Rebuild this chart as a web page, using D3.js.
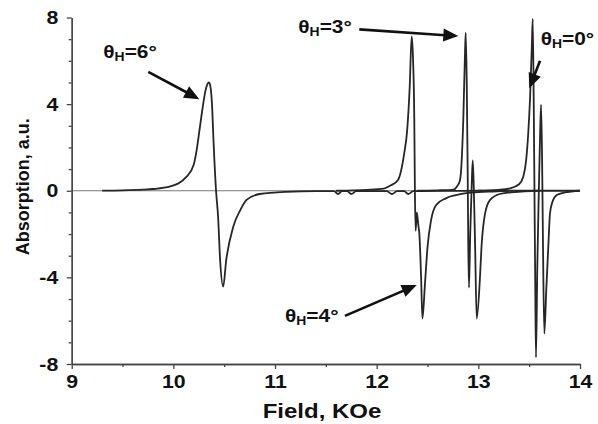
<!DOCTYPE html>
<html>
<head>
<meta charset="utf-8">
<script src="https://cdn.jsdelivr.net/npm/d3@7"></script>
<style>
  body { margin: 0; background: #fff; }
  svg text { font-family: "Liberation Sans", Arial, sans-serif; font-weight: bold; fill: #111; }
</style>
</head>
<body>
<svg id="chart" width="598" height="424"></svg>
<script>
// Data (field in KOe, absorption in a.u.)
const field6 = [9.3, 9.5, 9.7, 9.8, 9.97, 10.13, 10.2, 10.23, 10.26, 10.29, 10.315, 10.335, 10.35, 10.365, 10.38, 10.395, 10.42, 10.44, 10.46, 10.49, 10.52, 10.59, 10.66, 10.72, 10.85, 11.11, 11.4, 11.58, 11.62, 11.66, 11.71, 11.75, 11.8, 12.1, 12.15, 12.2, 12.27, 12.31, 12.36, 12.6, 13.0, 14.0]
const abs6 = [0.01, 0.02, 0.05, 0.08, 0.2, 0.65, 1.2, 1.9, 2.9, 3.9, 4.6, 4.92, 5.0, 4.8, 4.0, 2.3, 0, -1.2, -3.2, -4.43, -3.2, -1.65, -0.88, -0.42, -0.15, -0.05, -0.02, -0.02, -0.15, -0.02, -0.02, -0.15, -0.02, -0.02, -0.15, -0.02, -0.02, -0.15, -0.02, -0.01, 0, 0]

const field4 = [11.6, 11.9, 12.07, 12.14, 12.21, 12.27, 12.30, 12.325, 12.344, 12.356, 12.37, 12.376, 12.383, 12.395, 12.41, 12.42, 12.437, 12.45, 12.475, 12.50, 12.535, 12.585, 12.68, 12.78, 12.9, 13.1, 13.3]
const abs4 = [0, 0.04, 0.1, 0.25, 0.5, 1.7, 2.8, 4.8, 7.13, 6.3, 3.27, 0, -1.85, -1.0, -1.6, -2.0, -4.0, -5.9, -4.3, -2.6, -1.36, -0.66, -0.35, -0.2, -0.1, -0.04, 0]

const field3 = [12.4, 12.6, 12.7, 12.754, 12.79, 12.82, 12.852, 12.869, 12.876, 12.886, 12.895, 12.901, 12.908, 12.92, 12.935, 12.945, 12.955, 12.968, 12.984, 13.015, 13.031, 13.064, 13.114, 13.212, 13.35, 13.6]
const abs3 = [0, 0.02, 0.03, 0.05, 0.2, 0.5, 3.3, 6.4, 7.3, 5.0, 1.0, -2.5, -4.47, -2.0, 0.3, 1.4, 0.2, -2.5, -5.9, -4.1, -2.6, -1.1, -0.43, -0.15, -0.06, 0]

const field0 = [13.0, 13.2, 13.31, 13.4, 13.442, 13.47, 13.491, 13.508, 13.525, 13.535, 13.545, 13.552, 13.56, 13.567, 13.58, 13.595, 13.607, 13.617, 13.627, 13.636, 13.649, 13.668, 13.688, 13.705, 13.73, 13.771, 13.85, 14.0]
const abs0 = [0, 0.04, 0.11, 0.3, 0.65, 1.4, 2.66, 4.2, 6.5, 7.93, 4.0, 0, -4.5, -7.7, -3.5, 0, 2.5, 3.97, 1.5, -2.5, -6.6, -4.6, -2.6, -1.04, -0.5, -0.2, -0.08, 0]

const xTicks = [9, 10, 11, 12, 13, 14]
const xMinor = [9.5, 10.5, 11.5, 12.5, 13.5]
const yTicks = [-8, -4, 0, 4, 8]
const yMinor = [-7, -6, -5, -3, -2, -1, 1, 2, 3, 5, 6, 7]

// annotation: label start, arrow tail, arrow tip (all in data units)
const labelAngle = ['6', '3', '0', '4']
const labelPos = [[9.311, 6.13], [11.229, 7.27], [13.613, 6.73], [11.098, -6.06]]
const arrowFrom = [[9.753, 5.49], [11.829, 7.45], [13.607, 6.0], [11.688, -5.78]]
const arrowTo = [[10.255, 4.23], [12.803, 7.14], [13.501, 4.73], [12.394, -4.35]]

const svg = d3.select('#chart')
const x = d3.scaleLinear().domain([9, 14]).range([71.7, 580])
const y = d3.scaleLinear().domain([-8, 8]).range([364, 17.5])
const stretch = 1.16

// zero line
svg.append('line')
  .attr('x1', x(9)).attr('x2', x(14))
  .attr('y1', y(0)).attr('y2', y(0))
  .attr('stroke', '#555').attr('stroke-width', 0.8)

// curves
const line = d3.line()
  .x(d => x(d[0]))
  .y(d => y(d[1]))
  .curve(d3.curveMonotoneX)

const curves = [[field6, abs6], [field4, abs4], [field3, abs3], [field0, abs0]]
curves.forEach(c => {
  svg.append('path')
    .datum(d3.zip(c[0], c[1]))
    .attr('d', line)
    .attr('fill', 'none')
    .attr('stroke', '#262626')
    .attr('stroke-width', 1.8)
    .attr('stroke-linejoin', 'round')
})

// axes
function styleAxis(g) {
  g.selectAll('path, line').attr('stroke', '#444').attr('stroke-width', 1.3)
  g.selectAll('text').attr('font-size', 19).attr('fill', '#111')
}
const plain = d => String(d) // hyphen minus like the original

svg.append('g')
  .attr('transform', `translate(0,${y(-8)})`)
  .call(d3.axisBottom(x).tickValues(xMinor).tickSize(3).tickFormat('').tickSizeOuter(0))
  .call(styleAxis)
svg.append('g')
  .attr('transform', `translate(0,${y(-8)})`)
  .call(d3.axisBottom(x).tickValues(xTicks).tickSize(5).tickPadding(6).tickSizeOuter(0).tickFormat(plain))
  .call(styleAxis)
  .call(g => g.selectAll('text').attr('transform', 'scale(1.12,1)'))

svg.append('g')
  .attr('transform', `translate(${x(9)},0)`)
  .call(d3.axisLeft(y).tickValues(yMinor).tickSize(3).tickFormat('').tickSizeOuter(0))
  .call(styleAxis)
svg.append('g')
  .attr('transform', `translate(${x(9)},0)`)
  .call(d3.axisLeft(y).tickValues(yTicks).tickSize(5).tickPadding(7).tickSizeOuter(0).tickFormat(plain))
  .call(styleAxis)
  .call(g => g.selectAll('text').attr('transform', 'scale(1.12,1)'))

// axis titles
svg.append('text')
  .attr('transform', `translate(322,418) scale(1.2,1)`)
  .attr('text-anchor', 'middle')
  .attr('font-size', 20)
  .text('Field, KOe')

svg.append('text')
  .attr('transform', `translate(29,${y(0) - 4}) rotate(-90)`)
  .attr('text-anchor', 'middle')
  .attr('font-size', 18)
  .text('Absorption, a.u.')

// angle labels
labelAngle.forEach((a, i) => {
  const t = svg.append('text')
    .attr('transform', `translate(${x(labelPos[i][0])},${y(labelPos[i][1])}) scale(${stretch},1)`)
    .attr('font-size', 18)
  t.append('tspan').text('θ')
  t.append('tspan').attr('font-size', 12).attr('dy', 3).text('H')
  t.append('tspan').attr('dy', -3).text('=' + a + '°')
})

// arrows
arrowFrom.forEach((p, i) => {
  const x1 = x(p[0]), y1 = y(p[1])
  const x2 = x(arrowTo[i][0]), y2 = y(arrowTo[i][1])
  const len = Math.hypot(x2 - x1, y2 - y1)
  const ux = (x2 - x1) / len, uy = (y2 - y1) / len
  const headL = 15, headW = 6.5
  const bx = x2 - ux * headL, by = y2 - uy * headL
  svg.append('line')
    .attr('x1', x1).attr('y1', y1)
    .attr('x2', bx + ux * 2).attr('y2', by + uy * 2)
    .attr('stroke', '#111').attr('stroke-width', 2.6)
  svg.append('path')
    .attr('d', `M${x2},${y2}L${bx - uy * headW},${by + ux * headW}L${bx + uy * headW},${by - ux * headW}Z`)
    .attr('fill', '#111')
})
</script>
</body>
</html>
